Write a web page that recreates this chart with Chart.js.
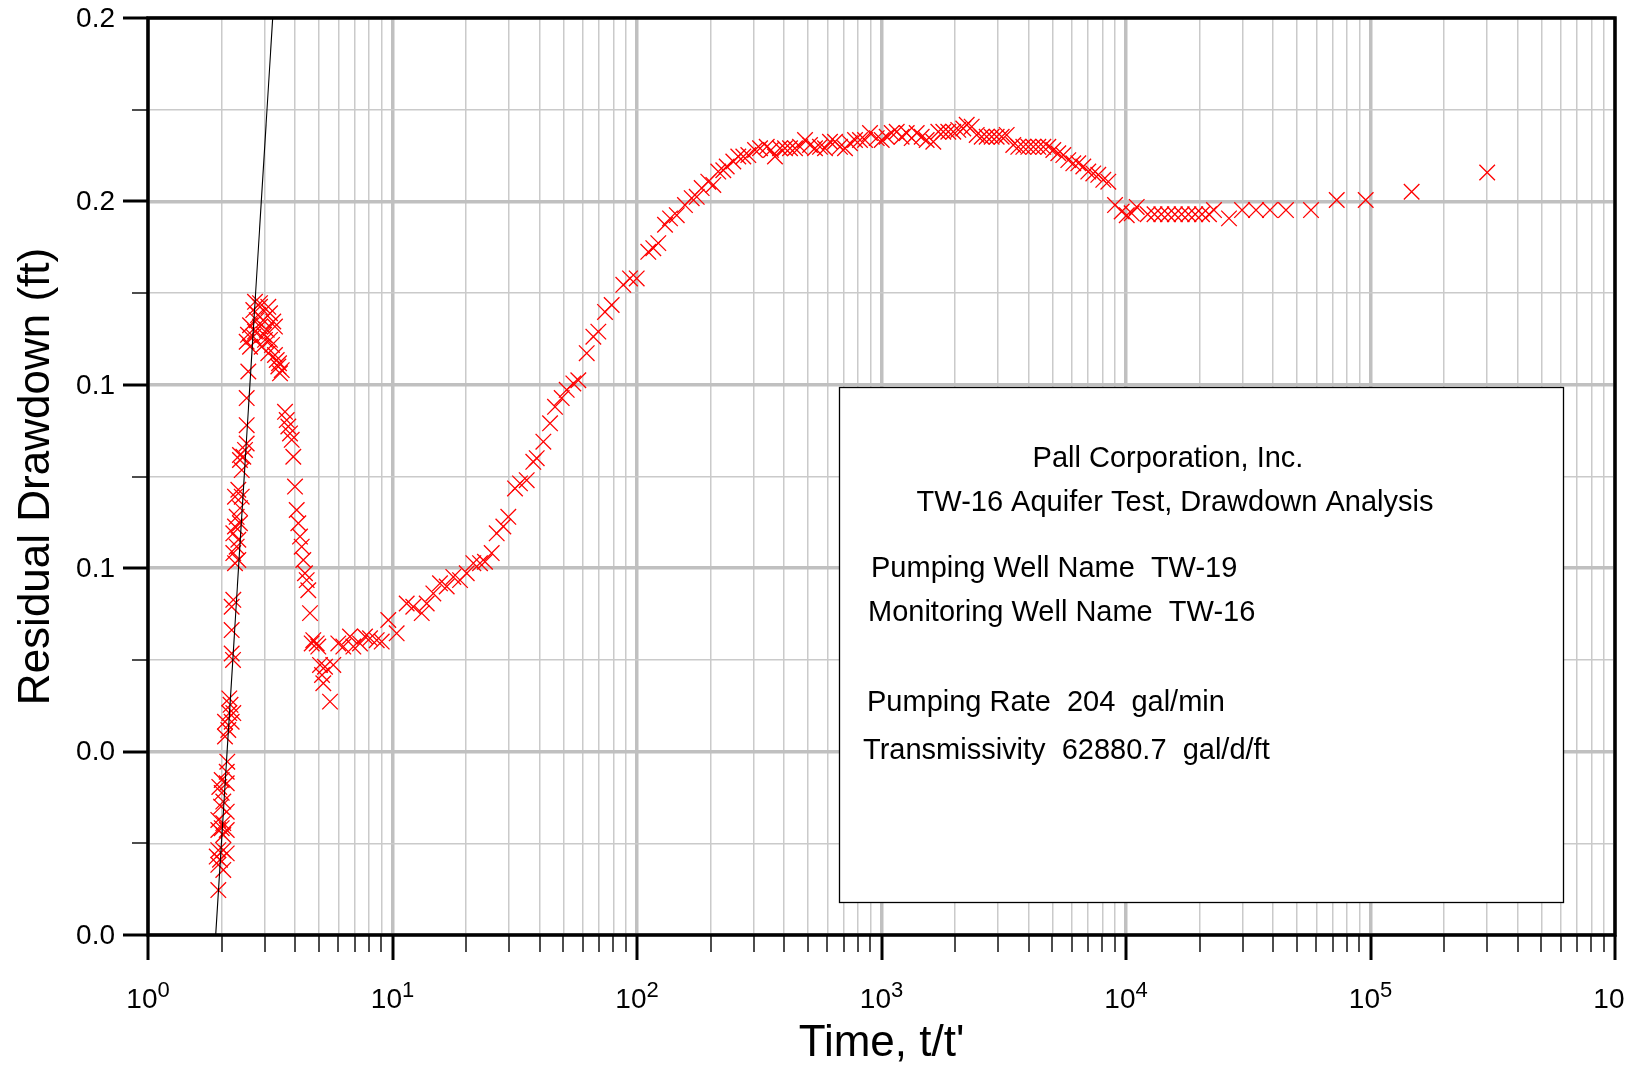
<!DOCTYPE html>
<html><head><meta charset="utf-8">
<script src="https://cdn.jsdelivr.net/npm/chart.js"></script>
<style>html,body{margin:0;padding:0;background:#fff;overflow:hidden}#wrap{position:relative;width:1634px;height:1067px}</style>
</head><body><div id="wrap"><canvas id="c" width="1634" height="1067"></canvas></div>
<script>
// ---- data ----
const timeRatio = [
 2.150,2.175,2.150,2.233,2.065,2.199,2.130,2.065,2.110,2.099,2.002,2.099,1.957,2.002,2.032,1.989,2.099,1.939,2.032,2.002,1.939,2.099,2.032,1.939,2.032,2.099,1.910,1.970,1.939,2.032,1.939,2.227,
 2.199,2.199,2.199,2.233,2.269,2.341,2.233,2.305,2.341,2.233,2.269,2.378,2.305,2.378,2.269,2.417,2.341,2.417,2.378,2.454,2.493,2.378,2.533,2.533,2.533,2.572,
 2.614,2.533,2.696,2.739,2.871,2.784,2.962,2.696,2.871,3.105,3.155,3.254,3.306,3.059,3.010,3.155,2.917,3.105,3.361,3.412,3.523,3.467,2.871,2.739,2.614,2.818,2.982,2.564,3.215,3.306,3.435,
 3.634,3.693,3.749,3.809,3.870,3.929,3.993,4.057,4.119,4.185,4.252,4.317,4.386,4.457,4.524,4.598,4.743,4.898,4.972,5.052,5.296,5.727,5.212,5.552,4.672,5.149,
 6.002,6.292,6.701,6.916,7.364,7.719,8.091,8.619,9.035,9.612,10.40,11.43,12.16,13.17,13.80,14.69,15.64,16.66,17.73,18.89,20.12,21.41,
 22.80,23.89,25.45,26.68,28.40,29.76,31.70,33.22,35.39,37.66,38.89,41.40,44.09,46.21,49.21,51.58,54.90,57.54,62.28,66.29,69.48,73.98,78.78,87.90,93.63,99.72,111.2,116.6,122.2,130.2,136.5,145.4,157.1,167.4,175.5,183.9,195.7,205.2,215.0,225.4,232.8,
 247.7,259.6,272.2,285.3,303.9,318.6,339.3,366.7,353.2,384.6,403.0,422.5,442.9,464.2,486.6,510.0,534.6,560.3,587.4,615.6,645.4,676.4,709.1,743.2,779.2,816.6,856.1,897.4,955.9,1002,1050,1101,1154,1209,1268,1329,1393,1460,1530,1629,1708,1790,1876,1966,2061,2160,2231,2338,2451,2569,2693,2822,2958,3101,3251,3459,3627,3802,3986,4178,4379,4590,4811,5043,5286,5541,5808,6088,6381,6689,7011,7349,7703,8075,8464,9017,9603,10070,10550,11060,
 12270,13080,13950,14850,15840,16890,18000,19190,20460,21850,22900,26380,29820,34020,38810,45110,57100,72760,95590,147300,300100
];
const residualDrawdown = [
 0.0516,0.0502,0.0484,0.0484,0.0465,0.0465,0.0447,0.0433,0.0378,0.0356,0.0338,0.0331,0.0323,0.0310,0.0291,0.0280,0.0269,0.0251,0.0244,0.0233,0.0229,0.0229,0.0218,0.0185,0.0185,0.0178,0.0171,0.0164,0.0153,0.0142,0.0098,0.0600,
 0.0614,0.0665,0.0716,0.0731,0.0811,0.0818,0.0833,0.0847,0.0862,0.0876,0.0891,0.0898,0.0912,0.0931,0.0956,0.0956,0.0971,0.1014,0.1036,0.1043,0.1058,0.1047,0.1072,0.1112,0.1171,0.1229,
 0.1283,0.1294,0.1305,0.1316,0.1327,0.1341,0.1341,0.1363,0.1370,0.1370,0.1356,0.1338,0.1327,0.1320,0.1298,0.1298,0.1283,0.1269,0.1254,0.1240,0.1232,0.1225,0.1378,0.1381,0.1330,0.1352,0.1309,0.1309,0.1287,0.1265,0.1247,
 0.1141,0.1123,0.1109,0.1094,0.1080,0.1043,0.0978,0.0927,0.0898,0.0869,0.0847,0.0818,0.0789,0.0774,0.0752,0.0702,0.0643,0.0636,0.0629,0.0589,0.0585,0.0589,0.0549,0.0509,0.0636,0.0567,
 0.0636,0.0629,0.0651,0.0629,0.0636,0.0651,0.0647,0.0643,0.0640,0.0687,0.0658,0.0723,0.0716,0.0702,0.0723,0.0745,0.0767,0.0760,0.0781,0.0774,0.0789,0.0811,
 0.0811,0.0814,0.0833,0.0876,0.0891,0.0912,0.0974,0.0985,0.0992,0.1032,0.1040,0.1076,0.1116,0.1152,0.1171,0.1189,0.1203,0.1210,0.1269,0.1305,0.1316,0.1359,0.1374,0.1418,0.1432,0.1432,0.1490,0.1498,0.1509,0.1549,0.1563,0.1570,0.1592,0.1607,0.1610,0.1629,0.1643,0.1636,0.1665,0.1668,0.1676,
 0.1687,0.1698,0.1698,0.1701,0.1712,0.1716,0.1719,0.1698,0.1712,0.1716,0.1716,0.1716,0.1716,0.1719,0.1734,0.1723,0.1716,0.1719,0.1716,0.1730,0.1730,0.1719,0.1716,0.1727,0.1734,0.1734,0.1734,0.1749,0.1738,0.1734,0.1741,0.1749,0.1752,0.1741,0.1749,0.1738,0.1749,0.1741,0.1734,0.1730,0.1752,0.1752,0.1752,0.1752,0.1756,0.1759,0.1767,0.1763,0.1745,0.1741,0.1741,0.1741,0.1741,0.1741,0.1745,0.1723,0.1719,0.1719,0.1719,0.1719,0.1719,0.1719,0.1719,0.1712,0.1705,0.1701,0.1690,0.1683,0.1683,0.1676,0.1665,0.1661,0.1658,0.1647,0.1643,0.1592,0.1578,0.1570,0.1574,0.1588,
 0.1572,0.1572,0.1572,0.1572,0.1572,0.1572,0.1572,0.1572,0.1572,0.1572,0.1581,0.1563,0.1581,0.1581,0.1581,0.1581,0.1581,0.1603,0.1603,0.1621,0.1663
];
// straight-line (Cooper-Jacob) fit
const fitTime = [1.892, 3.236];
const fitDrawdown = [0, 0.2];

// axes
const xMajorTicks = [1, 10, 100, 1000, 10000, 100000, 1000000];
const xTickExponents = ['0', '1', '2', '3', '4', '5', '6'];
const xTickBase = '10';
const yMajorTicks = [0, 0.04, 0.08, 0.12, 0.16, 0.2];
const yTickLabels = ['0.0', '0.0', '0.1', '0.1', '0.2', '0.2'];
const xTitle = "Time, t/t'";
const yTitle = 'Residual Drawdown (ft)';
const infoLines = [
  'Pall Corporation, Inc.',
  'TW-16 Aquifer Test, Drawdown Analysis',
  'Pumping Well Name  TW-19',
  'Monitoring Well Name  TW-16',
  'Pumping Rate  204  gal/min',
  'Transmissivity  62880.7  gal/d/ft'
];

// ---- derived ----
const xMinorTicks = [];
for (let i = 0; i < xMajorTicks.length - 1; i++) for (let m = 2; m <= 9; m++) xMinorTicks.push(xMajorTicks[i] * m);
const yMinorTicks = [];
for (let i = 0; i < yMajorTicks.length - 1; i++) yMinorTicks.push((yMajorTicks[i] + yMajorTicks[i + 1]) / 2);
const allX = xMajorTicks.concat(xMinorTicks).sort((a, b) => a - b);
const allY = yMajorTicks.concat(yMinorTicks).sort((a, b) => a - b);
const isMajorX = v => xMajorTicks.some(t => Math.abs(t - v) < 1e-9 * t);
const isMajorY = v => yMajorTicks.some(t => Math.abs(t - v) < 1e-9);

const points = timeRatio.map((t, i) => ({x: t, y: residualDrawdown[i]}));
const fitPoints = fitTime.map((t, i) => ({x: t, y: fitDrawdown[i]}));

const FONT = "'Liberation Sans', Arial, Helvetica, sans-serif";

const decor = {
  id: 'decor',
  afterDraw(chart) {
    const ctx = chart.ctx, a = chart.chartArea;
    const xs = chart.scales.x, ys = chart.scales.y;
    ctx.save();
    // info box
    const bx = 839, by = 387, bw = 1563 - 839, bh = 902 - 387;
    ctx.fillStyle = '#fff';
    ctx.fillRect(bx, by, bw, bh);
    ctx.strokeStyle = '#000'; ctx.lineWidth = 1.3;
    ctx.strokeRect(bx + 0.5, by + 0.5, bw, bh);
    ctx.fillStyle = '#000';
    ctx.font = '29px ' + FONT;
    ctx.textBaseline = 'alphabetic';
    ctx.textAlign = 'center';
    ctx.fillText(infoLines[0], 1168, 466.5);
    ctx.fillText(infoLines[1], 1175, 510.5);
    ctx.textAlign = 'left';
    ctx.fillText(infoLines[2], 871, 577);
    ctx.fillText(infoLines[3], 868, 621);
    ctx.fillText(infoLines[4], 867, 711);
    ctx.fillText(infoLines[5], 863, 759);

    // tick marks
    ctx.strokeStyle = '#000';
    allX.forEach(v => {
      const px = Math.round(xs.getPixelForValue(v));
      const maj = isMajorX(v);
      ctx.lineWidth = maj ? 3 : 1.4;
      ctx.beginPath(); ctx.moveTo(px, a.bottom); ctx.lineTo(px, a.bottom + (maj ? 25 : 17)); ctx.stroke();
    });
    allY.forEach(v => {
      const py = Math.round(ys.getPixelForValue(v));
      const maj = isMajorY(v);
      ctx.lineWidth = maj ? 3 : 1.4;
      ctx.beginPath(); ctx.moveTo(a.left, py); ctx.lineTo(a.left - (maj ? 25 : 16), py); ctx.stroke();
    });
    // frame
    ctx.lineWidth = 3.5;
    ctx.strokeRect(a.left, a.top, a.right - a.left, a.bottom - a.top);

    // y tick labels
    ctx.fillStyle = '#000';
    ctx.font = '28px ' + FONT;
    ctx.textAlign = 'right'; ctx.textBaseline = 'middle';
    yMajorTicks.forEach((v, i) => {
      ctx.fillText(yTickLabels[i], a.left - 33, ys.getPixelForValue(v) + 1);
    });
    // x tick labels: 10^n (an exponent that would run past the canvas edge is clipped off)
    ctx.textBaseline = 'alphabetic'; ctx.textAlign = 'left';
    xMajorTicks.forEach((v, i) => {
      const px = xs.getPixelForValue(v);
      ctx.font = '28px ' + FONT;
      const wb = ctx.measureText(xTickBase).width;
      ctx.font = '22px ' + FONT;
      const we = ctx.measureText(xTickExponents[i]).width;
      const x0 = px - (wb + we) / 2;
      ctx.font = '28px ' + FONT;
      ctx.fillText(xTickBase, x0, 1008);
      if (x0 + wb + we <= chart.width) {
        ctx.font = '22px ' + FONT;
        ctx.fillText(xTickExponents[i], x0 + wb, 996.5);
      }
    });
    // titles
    ctx.font = '44px ' + FONT;
    ctx.textAlign = 'center';
    ctx.fillText(xTitle, (a.left + a.right) / 2, 1056);
    ctx.save();
    ctx.translate(48.5, (a.top + a.bottom) / 2);
    ctx.rotate(-Math.PI / 2);
    ctx.fillText(yTitle, 0, 0);
    ctx.restore();
    ctx.restore();
  }
};

new Chart(document.getElementById('c'), {
  type: 'scatter',
  data: {
    datasets: [
      {type: 'line', data: fitPoints, borderColor: '#000', borderWidth: 1.1, pointRadius: 0, fill: false, tension: 0},
      {data: points, pointStyle: 'crossRot', pointRadius: 11, pointHoverRadius: 11, borderColor: '#ff0000', backgroundColor: 'rgba(0,0,0,0)', borderWidth: 1.3}
    ]
  },
  options: {
    responsive: false,
    animation: false,
    devicePixelRatio: 1,
    events: [],
    layout: {padding: {left: 148, right: 19, top: 18, bottom: 132}},
    plugins: {legend: {display: false}, tooltip: {enabled: false}},
    scales: {
      x: {
        type: 'logarithmic', min: 1, max: 1000000,
        afterBuildTicks: s => { s.ticks = allX.map(v => ({value: v, major: isMajorX(v)})); },
        ticks: {display: false},
        border: {display: false},
        grid: {
          drawTicks: false,
          color: c => isMajorX(c.tick.value) ? '#c0c0c0' : '#cacaca',
          lineWidth: c => isMajorX(c.tick.value) ? 3.5 : 1.5
        }
      },
      y: {
        type: 'linear', min: 0, max: 0.2,
        afterBuildTicks: s => { s.ticks = allY.map(v => ({value: v})); },
        ticks: {display: false},
        border: {display: false},
        grid: {
          drawTicks: false,
          color: c => isMajorY(c.tick.value) ? '#c0c0c0' : '#cacaca',
          lineWidth: c => isMajorY(c.tick.value) ? 3.5 : 1.5
        }
      }
    }
  },
  plugins: [decor]
});
</script>
</body></html>
